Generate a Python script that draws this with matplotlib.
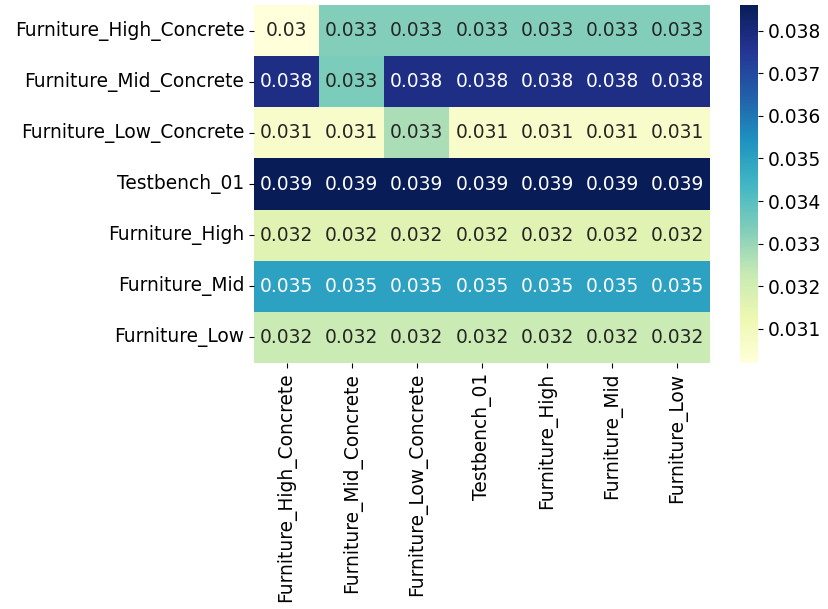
import matplotlib
matplotlib.use("Agg")
import matplotlib.pyplot as plt
import seaborn as sns
import numpy as np

names = ["Furniture_High_Concrete", "Furniture_Mid_Concrete", "Furniture_Low_Concrete",
         "Testbench_01", "Furniture_High", "Furniture_Mid", "Furniture_Low"]

# similarity rows
row_high_concrete = [0.0302, 0.0333, 0.0333, 0.0333, 0.0333, 0.0333, 0.0333]
row_mid_concrete = [0.0378, 0.0334, 0.0378, 0.0378, 0.0378, 0.0378, 0.0378]
row_low_concrete = [0.0306, 0.0306, 0.0327, 0.0306, 0.0306, 0.0306, 0.0306]
row_testbench = [0.0386, 0.0386, 0.0386, 0.0386, 0.0386, 0.0386, 0.0386]
row_high = [0.0316, 0.0316, 0.0316, 0.0316, 0.0316, 0.0316, 0.0316]
row_mid = [0.0350, 0.0350, 0.0350, 0.0350, 0.0350, 0.0350, 0.0350]
row_low = [0.0322, 0.0322, 0.0322, 0.0322, 0.0322, 0.0322, 0.0322]

mat = np.array([row_high_concrete, row_mid_concrete, row_low_concrete,
                row_testbench, row_high, row_mid, row_low])

fs = 13.45

fig = plt.figure(figsize=(8.29, 6.09), dpi=100)
ax = fig.add_axes([254/829, 1-363/609, 456/829, 358/609])
cax = fig.add_axes([740/829, 1-363/609, 18/829, 358/609])

sns.heatmap(mat, annot=True, cmap="YlGnBu", xticklabels=names, yticklabels=names,
            ax=ax, cbar_ax=cax, annot_kws={"fontsize": fs})
ax.tick_params(labelsize=fs)
cax.tick_params(labelsize=fs)
plt.setp(ax.get_xticklabels(), rotation=90)
plt.setp(ax.get_yticklabels(), rotation=0)

fig.savefig("out.png", dpi=100)
